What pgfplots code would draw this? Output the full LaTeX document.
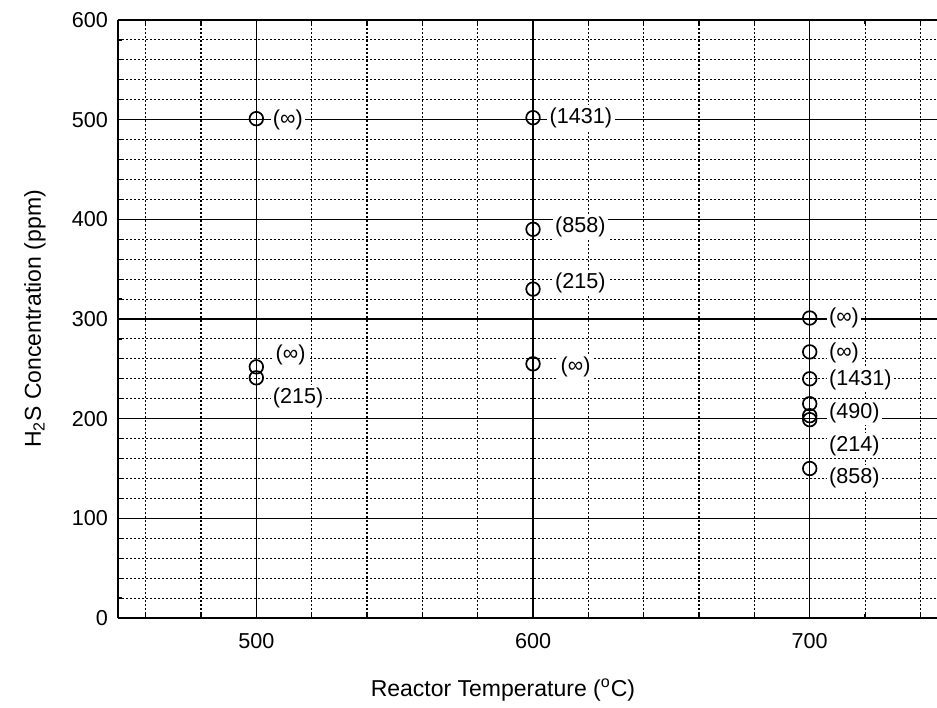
\documentclass[border=0pt]{standalone}
\usepackage{fontspec}
\setmainfont{Liberation Sans}
\usepackage{pgfplots}
\pgfplotsset{compat=1.18}
\begin{document}
\begin{tikzpicture}
\begin{axis}[
 at={(0,0)}, anchor=south west,
 scale only axis, width=409.5pt, height=299pt,
 xmin=450, xmax=746, ymin=0, ymax=600,
 axis x line=box, axis y line=left, axis line style={-, line width=0.9pt},
 xtick={500,600,700}, ytick={0,100,...,600},
 minor xtick={460,480,...,740}, minor ytick={20,40,...,580},
 grid=both,
 major grid style={black, line width=0.6pt},
 minor grid style={black, line width=0.55pt, dash pattern=on 0.8pt off 1.2pt},
 tick align=inside, major tick length=3pt, minor tick length=2pt,
 tick style={black, line width=0.6pt},
 /pgf/number format/assume math mode=true,
 ticklabel style={font=\fontsize{10.8}{12}\selectfont},
 xticklabel style={yshift=-4pt},
 yticklabel style={xshift=-1.5pt},
 xlabel={Reactor Temperature (\textsuperscript{o}C)},
 ylabel={H\textsubscript{2}S Concentration (ppm)},
 label style={font=\fontsize{11.5}{13}\selectfont},
 xlabel style={at={(axis description cs:0.47,0)}, anchor=center, yshift=-36pt},
 ylabel style={at={(axis description cs:0,0.5)}, anchor=center, yshift=41.5pt},
]
\addplot[only marks, mark=o, mark size=3.4pt, mark options={line width=0.85pt}] coordinates {
 (500,501) (500,252) (500,241)
 (600,502) (600,390) (600,330) (600,255)
 (700,301) (700,267) (700,240) (700,215) (700,203) (700,199) (700,150)
};
\tikzset{lbl/.style={anchor=west, fill=white, inner sep=1.2pt, font=\fontsize{10.8}{12}\selectfont}}
\node[lbl] at (axis cs:505,500) {(∞)};
\node[lbl] at (axis cs:506,264) {(∞)};
\node[lbl] at (axis cs:505,221) {(215)};
\node[lbl] at (axis cs:605,502) {(1431)};
\node[lbl] at (axis cs:607,392) {(858)};
\node[lbl] at (axis cs:607,336) {(215)};
\node[lbl] at (axis cs:609,252) {(∞)};
\node[lbl] at (axis cs:706,301) {(∞)};
\node[lbl] at (axis cs:706,266) {(∞)};
\node[lbl] at (axis cs:706,239) {(1431)};
\node[lbl] at (axis cs:706,206) {(490)};
\node[lbl] at (axis cs:706,173) {(214)};
\node[lbl] at (axis cs:706,141) {(858)};
\end{axis}
\pgfresetboundingbox
\path (-59pt,-44.5pt) rectangle (409.5pt,309pt);
\end{tikzpicture}
\end{document}
